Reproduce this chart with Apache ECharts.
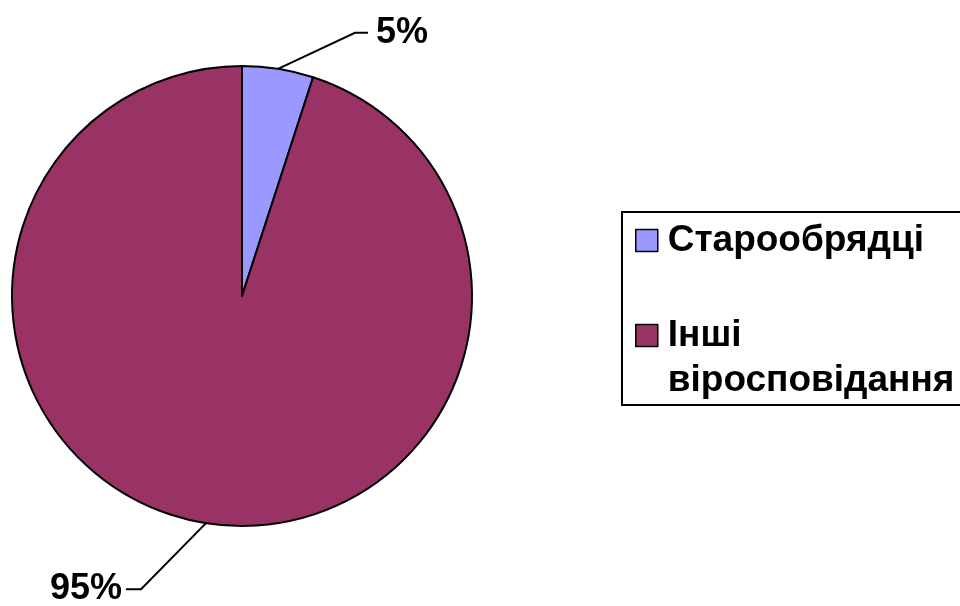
<!DOCTYPE html>
<html>
<head>
<meta charset="utf-8">
<script src="https://cdn.jsdelivr.net/npm/echarts@6/dist/echarts.min.js"></script>
<style>
  html, body { margin: 0; padding: 0; background: #fff; }
  #chart { width: 960px; height: 606px; }
</style>
</head>
<body>
<div id="chart"></div>
<script>
// дані діаграми
const categories = ['Старообрядці', 'Інші віросповідання']
const values = [5, 95]
const colors = ['#9999FF', '#993366']

const FONT = 'Liberation Sans, Arial, sans-serif'

let myChart = echarts.init(document.getElementById('chart'))

// зміщення ліній підписів (від точки на краю сектора)
const lineOffsets = [
  { dx: 77, dy: -36, dx2: 13, side: 'left' },
  { dx: -65, dy: 66, dx2: -15, side: 'right' }
]

myChart.setOption({
  animation: false,
  legend: {
    orient: 'vertical',
    left: 622,
    top: 212,
    padding: [6, 80, 2, 13],
    borderColor: '#000',
    borderWidth: 2,
    icon: 'rect',
    itemWidth: 22,
    itemHeight: 22,
    itemGap: 5,
    itemStyle: { borderColor: '#000', borderWidth: 1.5 },
    formatter(name) {
      // порожній рядок зверху, щоб "Інші" стояло навпроти значка
      return name === 'Інші віросповідання' ? '\nІнші\nвіросповідання' : name
    },
    textStyle: {
      fontFamily: FONT,
      fontWeight: 'bold',
      fontSize: 37,
      color: '#000',
      lineHeight: 45,
      padding: [0, 0, 0, 5]
    },
    data: categories
  },
  series: [{
    type: 'pie',
    center: [242, 296],
    radius: 230,
    startAngle: 90,
    clockwise: true,
    itemStyle: { borderColor: '#000', borderWidth: 2 },
    label: {
      show: true,
      formatter: '{d}%',
      fontFamily: FONT,
      fontWeight: 'bold',
      fontSize: 36,
      color: '#000'
    },
    labelLine: {
      show: true,
      length: 20,
      length2: 10,
      lineStyle: { color: '#000', width: 2 }
    },
    labelLayout(params) {
      const o = lineOffsets[params.dataIndex]
      const p0 = params.labelLinePoints[0]
      const p1 = [p0[0] + o.dx, p0[1] + o.dy]
      const p2 = [p1[0] + o.dx2, p1[1]]
      return {
        x: o.side === 'left' ? p2[0] + 8 : p2[0] - 4,
        y: p2[1],
        align: o.side,
        verticalAlign: 'middle',
        labelLinePoints: [p0, p1, p2]
      }
    },
    data: categories.map((name, i) => ({
      name: name,
      value: values[i],
      itemStyle: { color: colors[i] }
    }))
  }]
})
</script>
</body>
</html>
